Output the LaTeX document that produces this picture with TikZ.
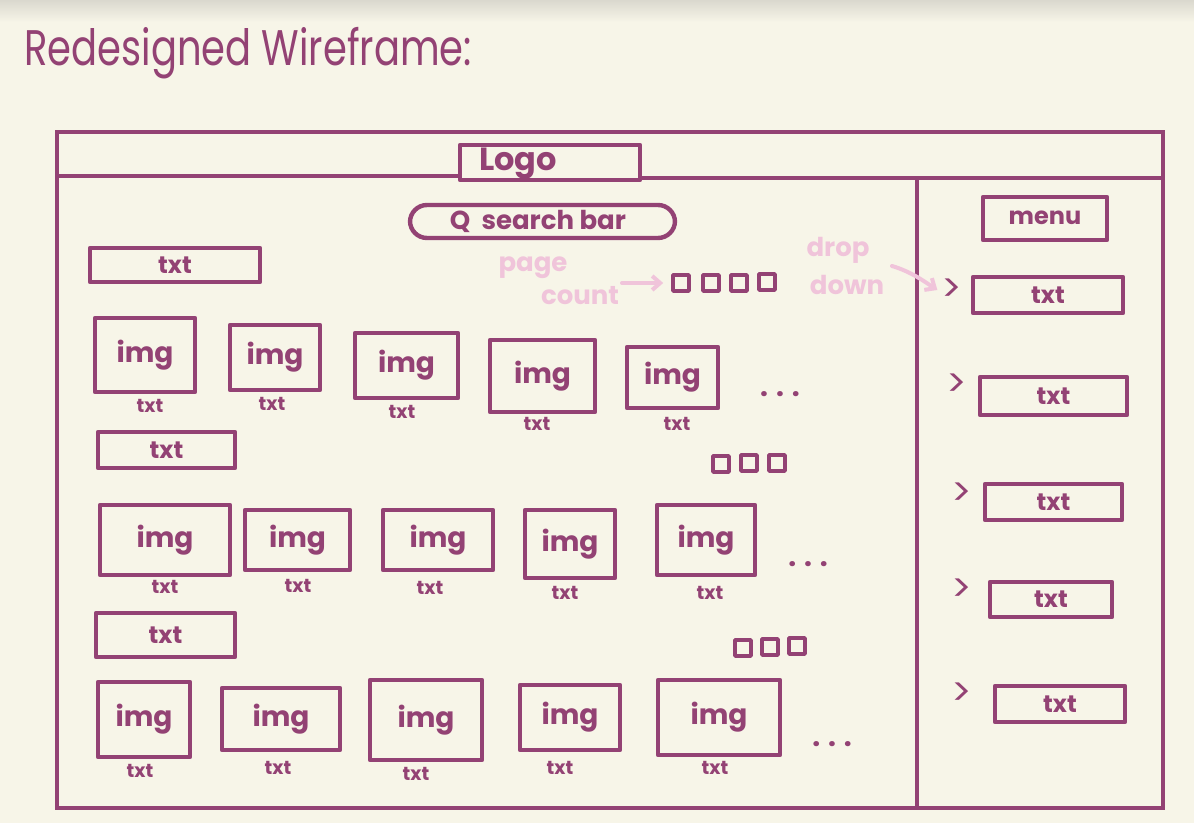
\documentclass[tikz,border=0pt]{standalone}
\usepackage{fontspec}
\setmainfont{Poppins}
\usetikzlibrary{fit,arrows.meta}
\definecolor{bg}{HTML}{F7F5E8}
\definecolor{topgray}{HTML}{DAD8CE}
\definecolor{ink}{HTML}{934274}
\definecolor{pinkink}{HTML}{F0C4DA}
\tikzset{
  wire/.style={draw=ink, line width=2.2pt, line cap=round, line join=round},
  frame/.style={draw=ink, line width=2pt},
  box/.style={wire, rectangle, inner sep=0pt},
  lbl/.style={text=ink, font=\fontsize{14}{16}\selectfont\bfseries, inner sep=0pt},
  txtlbl/.style={text=ink, font=\fontsize{12}{14}\selectfont\bfseries, inner sep=0pt},
  captxt/.style={text=ink, font=\fontsize{9.5}{11}\selectfont\bfseries, inner sep=0pt},
  sq/.style={wire, line width=1.8pt, minimum width=8pt, minimum height=8pt, inner sep=0pt},
  note/.style={text=pinkink, font=\fontsize{13}{15}\selectfont\bfseries, inner sep=0pt},
  noteline/.style={draw=pinkink, line width=2pt, line cap=round, -{Straight Barb[length=4pt,width=7pt]}},
  chev/.style={text=ink, font=\fontsize{19}{20}\selectfont, inner sep=0pt},
  dots/.style={text=ink, font=\fontsize{14}{14}\selectfont\bfseries, inner sep=0pt},
}
\newcommand\wbox[7]{%
  \node[box,#7, fit={(#2,#3) (#4,#5)}] (#1) {};
  \node[lbl] (#1t) at (#1) {#6};}
\newcommand\tbox[6]{%
  \node[box, fit={(#2,#3) (#4,#5)}] (#1) {};
  \node[txtlbl] (#1t) at (#1) {#6};}
\begin{document}
\begin{tikzpicture}[x=0.5pt,y=-0.5pt]
\fill[bg] (0,0) rectangle (1194,823);
\shade[top color=topgray, bottom color=bg] (0,0) rectangle (1194,22);
\useasboundingbox (0,0) rectangle (1194,823);

% title
\node[anchor=base west, text=ink, font=\fontsize{25}{27}\selectfont, inner sep=0pt, xscale=0.77, transform shape] (title) at (24,66) {Redesigned Wireframe:};

% outer frame
\node[frame, rectangle, inner sep=0pt, fit={(57,132) (1163,808)}] (page) {};
\coordinate (hl) at (57,176);
\coordinate (hr) at (1163,178);
\node[box, fit={(460,145) (640,180)}] (logo) {};
\node[lbl, font=\fontsize{16}{18}\selectfont\bfseries, anchor=base] (logot) at (518,171) {Logo};
\draw[frame] (hl) -- (logo.west |- hl);
\draw[frame] (logo.east |- hr) -- (hr);
\coordinate (vt) at (917,180);
\coordinate (vb) at (917,808);
\draw[frame] (vt) -- (vb);

% search bar
\node[box, rounded corners=8.5pt, fit={(410,205) (675,238)}] (search) {};
\node[lbl, font=\fontsize{13}{15}\selectfont\bfseries] (searcht) at (538,221) {Q\ \ search bar};

% section 1
\tbox{s1}{90}{248}{260}{282}{txt}
\node[note] (page1) at (533,268) {page};
\node[note] (count1) at (580,296) {count};
\node[sq] (p1) at (681,283) {};
\node[sq] (p2) at (711,283) {};
\node[sq] (p3) at (739,283) {};
\node[sq] (p4) at (767,282) {};
\coordinate (pa) at (622,283);
\draw[noteline] (pa) -- ([xshift=-4pt]p1.west);

\wbox{a1}{95}{318}{195}{392}{img}{}
\wbox{a2}{230}{325}{320}{390}{img}{}
\wbox{a3}{355}{333}{458}{398}{img}{}
\wbox{a4}{490}{340}{595}{412}{img}{}
\wbox{a5}{627}{347}{718}{408}{img}{}
\node[captxt] (a1c) at (150,406) {txt};
\node[captxt] (a2c) at (272,404) {txt};
\node[captxt] (a3c) at (402,412) {txt};
\node[captxt] (a4c) at (537,424) {txt};
\node[captxt] (a5c) at (677,424) {txt};
\node[dots] (adots) at (780,394) {. . .};

% section 2
\tbox{s2}{98}{432}{235}{468}{txt}
\node[sq] (q1) at (721,464) {};
\node[sq] (q2) at (749,463) {};
\node[sq] (q3) at (777,463) {};
\wbox{b1}{100}{505}{230}{575}{img}{}
\wbox{b2}{245}{510}{350}{570}{img}{}
\wbox{b3}{383}{510}{493}{570}{img}{}
\wbox{b4}{525}{510}{615}{578}{img}{}
\wbox{b5}{657}{505}{755}{575}{img}{}
\node[captxt] (b1c) at (165,587) {txt};
\node[captxt] (b2c) at (298,586) {txt};
\node[captxt] (b3c) at (430,588) {txt};
\node[captxt] (b4c) at (565,593) {txt};
\node[captxt] (b5c) at (710,593) {txt};
\node[dots] (bdots) at (808,564) {. . .};

% section 3
\tbox{s3}{96}{613}{235}{657}{txt}
\node[sq] (r1) at (743,648) {};
\node[sq] (r2) at (770,647) {};
\node[sq] (r3) at (797,646) {};
\wbox{c1}{98}{682}{190}{757}{img}{}
\wbox{c2}{222}{688}{340}{750}{img}{}
\wbox{c3}{370}{680}{482}{760}{img}{}
\wbox{c4}{520}{685}{620}{750}{img}{}
\wbox{c5}{658}{680}{780}{755}{img}{}
\node[captxt] (c1c) at (140,771) {txt};
\node[captxt] (c2c) at (278,768) {txt};
\node[captxt] (c3c) at (416,774) {txt};
\node[captxt] (c4c) at (560,768) {txt};
\node[captxt] (c5c) at (715,768) {txt};
\node[dots] (cdots) at (832,744) {. . .};

% menu
\node[box, fit={(983,197) (1107,240)}] (menu) {};
\node[lbl, font=\fontsize{12}{14}\selectfont\bfseries] (menut) at (1045,218) {menu};
\tbox{m1}{973}{277}{1123}{313}{txt}
\tbox{m2}{980}{377}{1127}{415}{txt}
\tbox{m3}{985}{484}{1122}{520}{txt}
\tbox{m4}{990}{582}{1112}{617}{txt}
\tbox{m5}{995}{686}{1125}{722}{txt}
\node[chev] (g1) at (952,290) {>};
\node[chev] (g2) at (957,385) {>};
\node[chev] (g3) at (962,494) {>};
\node[chev] (g4) at (962,590) {>};
\node[chev] (g5) at (962,694) {>};

\node[note] (drop) at (838,250) {drop};
\node[note] (down) at (847,285) {down};
\coordinate (da) at (892,266);
\draw[noteline] (da) .. controls (912,272) and (925,282) .. ([xshift=-2pt]g1.west);
\end{tikzpicture}
\end{document}
